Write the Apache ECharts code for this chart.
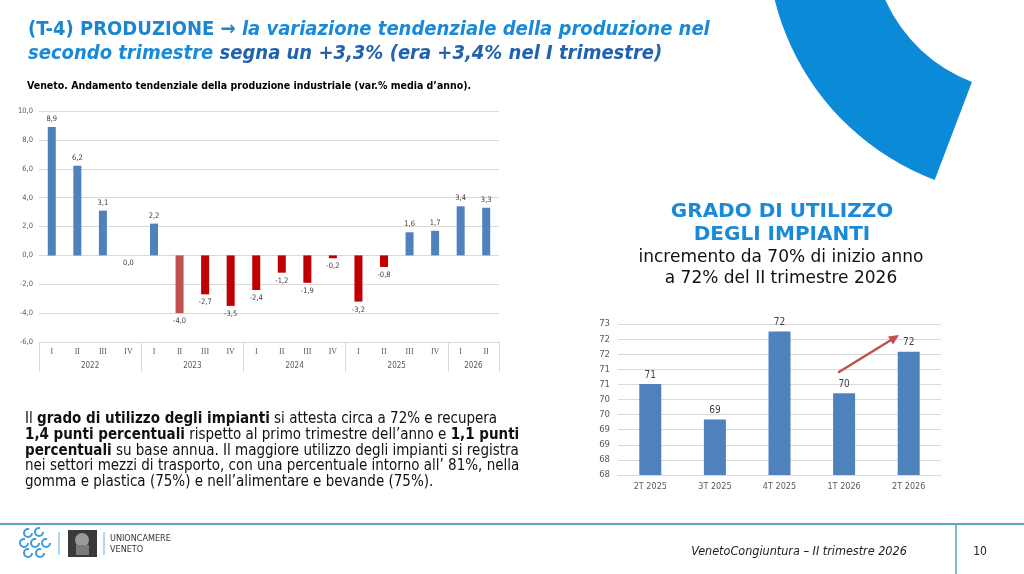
<!DOCTYPE html>
<html>
<head>
<meta charset="utf-8">
<script src="https://cdn.jsdelivr.net/npm/echarts@6/dist/echarts.min.js"></script>
<style>
html,body{margin:0;padding:0;background:#fff;}
#c{width:1024px;height:574px;}
</style>
</head>
<body>
<div id="c"></div>
<script>
// ---- Left chart data: Veneto, tendential change of industrial production ----
var quarters = ['I','II','III','IV','I','II','III','IV','I','II','III','IV','I','II','III','IV','I','II'];
var productionValues = [8.9, 6.2, 3.1, 0.0, 2.2, -4.0, -2.7, -3.5, -2.4, -1.2, -1.9, -0.2, -3.2, -0.8, 1.6, 1.7, 3.4, 3.3];
var years = ['2022','2023','2024','2025','2026'];
var yearGroupSizes = [4, 4, 4, 4, 2];

// ---- Right chart data: plant utilization ----
var utilCategories = ['2T 2025','3T 2025','4T 2025','1T 2026','2T 2026'];
var utilValues = [70.61, 69.44, 72.35, 70.31, 71.68];
var utilTickLabels = ['68','68','69','69','70','70','71','71','72','72','73'];

var FONT = "'DejaVu Sans Condensed','DejaVu Sans',sans-serif";
var FONTW = "'DejaVu Sans',sans-serif";

// year separators & centers derived from group sizes
var sepValues = [0], yearCenters = [], acc = 0;
yearGroupSizes.forEach(function (n) { yearCenters.push(acc + n / 2); acc += n; sepValues.push(acc); });

var BLUE = '#4f81bd', DARKRED = '#c00000', LIGHTRED = '#c0504d';

var prodData = productionValues.map(function (v, i) {
  var color = v >= 0 ? BLUE : (i === 5 ? LIGHTRED : DARKRED);
  return { value: v, itemStyle: { color: color }, label: { position: v > 0 ? 'top' : 'bottom' } };
});

var UMIN = 67.6, USTEP = 0.5;

var chart = echarts.init(document.getElementById('c'), null, { renderer: 'canvas' });

var option = {
  backgroundColor: '#ffffff',
  animation: false,
  textStyle: { fontFamily: FONT },
  grid: [
    { left: 39, top: 111, width: 460, height: 231 },
    { left: 618, top: 324, width: 323, height: 151 }
  ],
  xAxis: [
    {
      type: 'category', gridIndex: 0, data: quarters,
      axisLine: { onZero: false, lineStyle: { color: '#d9d9d9' } },
      axisTick: { show: false },
      axisLabel: { interval: 0, fontSize: 8, color: '#595959', fontFamily: "'Liberation Serif',serif", margin: 6 }
    },
    {
      type: 'value', gridIndex: 0, min: 0, max: quarters.length, position: 'bottom',
      axisLine: { show: false, onZero: false }, splitLine: { show: false },
      axisTick: { show: true, customValues: sepValues, length: 30, lineStyle: { color: '#d9d9d9' } },
      axisLabel: {
        customValues: yearCenters, margin: 20, fontSize: 8, color: '#595959',
        formatter: function (v) { var k = yearCenters.indexOf(v); return k >= 0 ? years[k] : ''; }
      }
    },
    {
      type: 'category', gridIndex: 1, data: utilCategories,
      axisLine: { lineStyle: { color: '#d9d9d9' } },
      axisTick: { show: false },
      axisLabel: { interval: 0, fontSize: 9, color: '#595959', margin: 7 }
    }
  ],
  yAxis: [
    {
      type: 'value', gridIndex: 0, min: -6, max: 10, interval: 2,
      axisLine: { show: false }, axisTick: { show: false },
      splitLine: { lineStyle: { color: '#d9d9d9' } },
      axisLabel: { fontSize: 7.5, color: '#595959', margin: 6,
        formatter: function (v) { return v.toFixed(1).replace('.', ','); } }
    },
    {
      type: 'value', gridIndex: 1, min: UMIN, max: UMIN + USTEP * (utilTickLabels.length - 1), interval: USTEP,
      axisLine: { show: false }, axisTick: { show: false },
      splitLine: { lineStyle: { color: '#d9d9d9' } },
      axisLabel: { fontSize: 9.5, color: '#595959', margin: 8,
        formatter: function (v) { return utilTickLabels[Math.round((v - UMIN) / USTEP)]; } }
    }
  ],
  series: [
    {
      type: 'bar', xAxisIndex: 0, yAxisIndex: 0, data: prodData, barWidth: 8,
      label: { show: true, fontSize: 7.5, color: '#404040', distance: 4,
        formatter: function (p) { return p.value.toFixed(1).replace('.', ','); } }
    },
    {
      type: 'bar', xAxisIndex: 2, yAxisIndex: 1, data: utilValues, barWidth: 22,
      itemStyle: { color: BLUE },
      label: { show: true, position: 'top', fontSize: 10, color: '#404040', distance: 4,
        formatter: function (p) { return Math.round(p.value); } }
    }
  ],
  graphic: [
    // decorative arc top-right
    { type: 'sector', shape: { cx: 1027, cy: -63, r0: 155, r: 260, startAngle: 110.8 * Math.PI / 180, endAngle: 200 * Math.PI / 180 },
      style: { fill: '#0b8ad8' }, z: 0 },
    // trend arrow annotation (right chart)
    { type: 'line', z: 20, shape: { x1: 839, y1: 372, x2: 891, y2: 340 }, style: { stroke: '#c0504d', lineWidth: 2.5, lineCap: 'round' } },
    { type: 'polygon', z: 20, shape: { points: [[899, 335], [893, 344.5], [888, 336.5]] }, style: { fill: '#c0504d' } },
    // main title
    { type: 'text', left: 28, top: 20, z: 10,
      style: {
        text: '{a|(T-4) PRODUZIONE → }{i|la variazione tendenziale della produzione nel}\n{i|secondo trimestre }{d|segna un +3,3% (era +3,4% nel I trimestre)}',
        rich: {
          a: { fontFamily: FONT, fontSize: 20, fontWeight: 'bold', fill: '#1b86cf', lineHeight: 24 },
          i: { fontFamily: FONT, fontSize: 20, fontWeight: 'bold', fontStyle: 'italic', fill: '#1a8ad8', lineHeight: 24 },
          d: { fontFamily: FONT, fontSize: 20, fontWeight: 'bold', fontStyle: 'italic', fill: '#2163ad', lineHeight: 24 }
        }
      } },
    // left chart caption
    { type: 'text', left: 27, top: 81, z: 10,
      style: { text: 'Veneto. Andamento tendenziale della produzione industriale (var.% media d’anno).',
        fontFamily: FONT, fontSize: 10.5, fontWeight: 'bold', fill: '#000' } },
    // right heading
    { type: 'text', x: 782, y: 200, z: 10,
      style: { text: 'GRADO DI UTILIZZO\nDEGLI IMPIANTI', align: 'center', fontFamily: FONTW, fontSize: 20,
        fontWeight: 'bold', fill: '#1a8ad8', lineHeight: 23 } },
    { type: 'text', x: 781, y: 247, z: 10,
      style: { text: 'incremento da 70% di inizio anno\na 72% del II trimestre 2026', align: 'center', fontFamily: FONTW,
        fontSize: 17, fill: '#111', lineHeight: 21 } },
    // paragraph
    { type: 'text', left: 25, top: 412, z: 10,
      style: {
        text: '{n|Il }{b|grado di utilizzo degli impianti}{n| si attesta circa a 72% e recupera}\n' +
              '{b|1,4 punti percentuali}{n| rispetto al primo trimestre dell’anno e }{b|1,1 punti}\n' +
              '{b|percentuali}{n| su base annua. Il maggiore utilizzo degli impianti si registra}\n' +
              '{n|nei settori mezzi di trasporto, con una percentuale intorno all’ 81%, nella}\n' +
              '{n|gomma e plastica (75%) e nell’alimentare e bevande (75%).}',
        rich: {
          n: { fontFamily: FONT, fontSize: 15, fill: '#111', lineHeight: 15.6 },
          b: { fontFamily: FONT, fontSize: 15, fontWeight: 'bold', fill: '#111', lineHeight: 15.6 }
        }
      } },
    // footer lines
    { type: 'line', shape: { x1: 0, y1: 524, x2: 1024, y2: 524 }, style: { stroke: '#5ba3c9', lineWidth: 2 }, z: 10 },
    { type: 'line', shape: { x1: 956, y1: 524, x2: 956, y2: 574 }, style: { stroke: '#5ba3c9', lineWidth: 1.5 }, z: 10 },
    { type: 'text', x: 799, y: 552, z: 10,
      style: { text: 'VenetoCongiuntura – II trimestre 2026', align: 'center', verticalAlign: 'middle', fontFamily: FONT,
        fontSize: 12.5, fontStyle: 'italic', fill: '#222' } },
    { type: 'text', x: 980, y: 552, z: 10,
      style: { text: '10', align: 'center', verticalAlign: 'middle', fontFamily: FONT, fontSize: 12, fill: '#222' } },
    // logo
    { type: 'group', z: 10, children: [
      { type: 'arc', shape: { cx: 28, cy: 533, r: 4, startAngle: 0, endAngle: 5 }, style: { stroke: '#3d9bd8', lineWidth: 2, fill: 'none' } },
      { type: 'arc', shape: { cx: 39, cy: 532, r: 4, startAngle: 0, endAngle: 5 }, style: { stroke: '#3d9bd8', lineWidth: 2, fill: 'none' } },
      { type: 'arc', shape: { cx: 24, cy: 543, r: 4, startAngle: 0, endAngle: 5 }, style: { stroke: '#3d9bd8', lineWidth: 2, fill: 'none' } },
      { type: 'arc', shape: { cx: 35, cy: 543, r: 4, startAngle: 0, endAngle: 5 }, style: { stroke: '#3d9bd8', lineWidth: 2, fill: 'none' } },
      { type: 'arc', shape: { cx: 46, cy: 543, r: 4, startAngle: 0, endAngle: 5 }, style: { stroke: '#3d9bd8', lineWidth: 2, fill: 'none' } },
      { type: 'arc', shape: { cx: 28, cy: 553, r: 4, startAngle: 0, endAngle: 5 }, style: { stroke: '#3d9bd8', lineWidth: 2, fill: 'none' } },
      { type: 'arc', shape: { cx: 40, cy: 553, r: 4, startAngle: 0, endAngle: 5 }, style: { stroke: '#3d9bd8', lineWidth: 2, fill: 'none' } },
      { type: 'line', shape: { x1: 59, y1: 532, x2: 59, y2: 555 }, style: { stroke: '#6aaed6', lineWidth: 1 } },
      { type: 'rect', shape: { x: 68, y: 530, width: 29, height: 27 }, style: { fill: '#3a3a3a' } },
      { type: 'circle', shape: { cx: 82, cy: 540, r: 7 }, style: { fill: '#9a9a9a' } },
      { type: 'rect', shape: { x: 76, y: 545, width: 13, height: 10 }, style: { fill: '#7a7a7a' } },
      { type: 'line', shape: { x1: 104, y1: 532, x2: 104, y2: 555 }, style: { stroke: '#6aaed6', lineWidth: 1 } },
      { type: 'text', x: 110, y: 539, style: { text: 'UNIONCAMERE', verticalAlign: 'middle', fontFamily: FONT, fontSize: 9, fill: '#333' } },
      { type: 'text', x: 110, y: 550, style: { text: 'VENETO', verticalAlign: 'middle', fontFamily: FONT, fontSize: 9, fill: '#333' } }
    ] }
  ]
};
chart.setOption(option);
</script>
</body>
</html>
